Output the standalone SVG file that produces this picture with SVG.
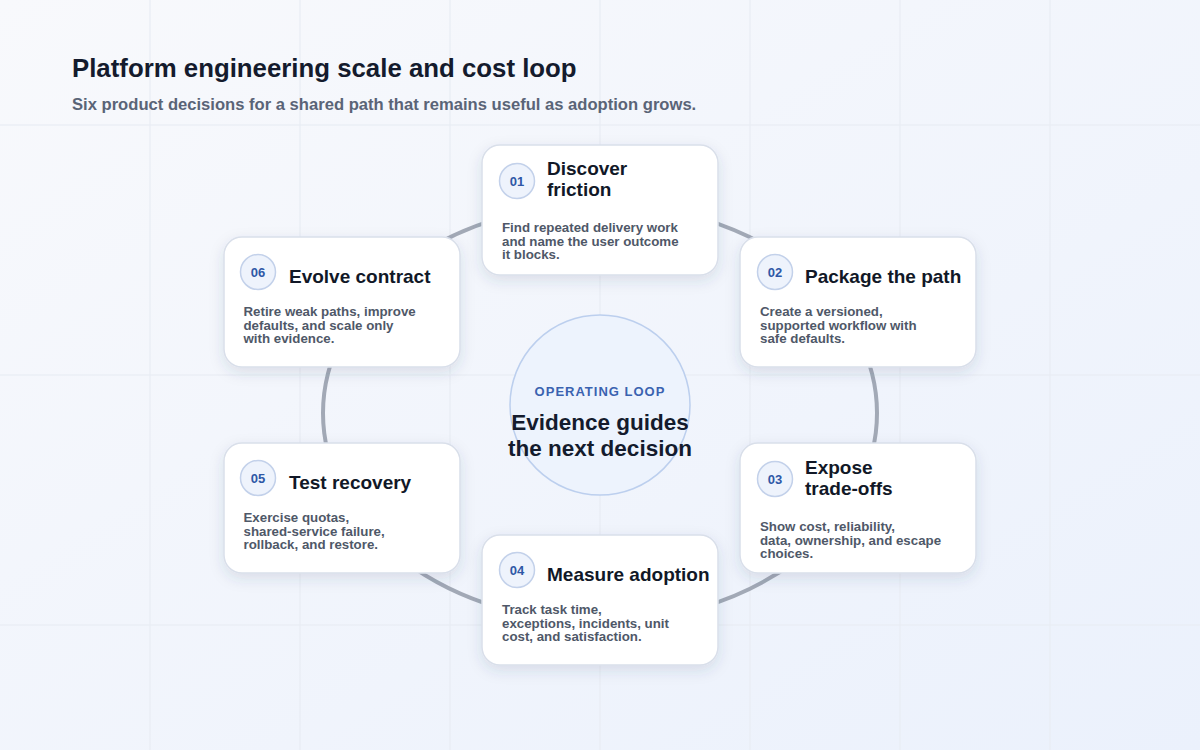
<svg xmlns="http://www.w3.org/2000/svg" width="1200" height="750" viewBox="0 0 1200 750">
<defs>
<linearGradient id="bg" x1="0" y1="0" x2="1" y2="1">
<stop offset="0" stop-color="#f8f9fc"/>
<stop offset="1" stop-color="#ebf1fc"/>
</linearGradient>
<filter id="sh" x="-20%" y="-20%" width="140%" height="150%">
<feDropShadow dx="0" dy="5" stdDeviation="7" flood-color="#334466" flood-opacity="0.13"/>
</filter>
<style>
.grid{stroke:#e9edf4;stroke-width:1.5;opacity:0.8}
.card{fill:#ffffff;stroke:#d9dfea;stroke-width:1.5}
.badge{fill:#eef3fc;stroke:#c3d1ea;stroke-width:1.5}
.num{font-family:"Liberation Sans",Arial,sans-serif;font-weight:700;font-size:13px;fill:#2f58a6;text-anchor:middle}
.ttl{font-family:"Liberation Sans",Arial,sans-serif;font-weight:700;font-size:19px;fill:#111827}
.body{font-family:"Liberation Sans",Arial,sans-serif;font-weight:700;font-size:13.3px;fill:#4f5868}
.ring{fill:none;stroke:#a2a9b6;stroke-width:4}
</style>
</defs>
<rect x="0" y="0" width="1200" height="750" fill="url(#bg)"/>
<g id="grid">
<line class="grid" x1="150" y1="0" x2="150" y2="750"/>
<line class="grid" x1="300" y1="0" x2="300" y2="750"/>
<line class="grid" x1="450" y1="0" x2="450" y2="750"/>
<line class="grid" x1="600" y1="0" x2="600" y2="750"/>
<line class="grid" x1="750" y1="0" x2="750" y2="750"/>
<line class="grid" x1="900" y1="0" x2="900" y2="750"/>
<line class="grid" x1="1050" y1="0" x2="1050" y2="750"/>
<line class="grid" x1="0" y1="125" x2="1200" y2="125"/>
<line class="grid" x1="0" y1="375" x2="1200" y2="375"/>
<line class="grid" x1="0" y1="625" x2="1200" y2="625"/>
</g>
<g id="header">
<text x="72" y="77" font-family="Liberation Sans, Arial, sans-serif" font-weight="700" font-size="25.8" fill="#141b2d">Platform engineering scale and cost loop</text>
<text x="72" y="110" font-family="Liberation Sans, Arial, sans-serif" font-weight="700" font-size="16.6" fill="#5a6477">Six product decisions for a shared path that remains useful as adoption grows.</text>
</g>
<g id="connectors">
<ellipse class="ring" cx="600" cy="413" rx="277" ry="209"/>
</g>
<g id="center">
<circle cx="600" cy="405" r="90" fill="#edf3fd" stroke="#bccfee" stroke-width="1.5"/>
<text x="600" y="396" text-anchor="middle" font-family="Liberation Sans, Arial, sans-serif" font-weight="700" font-size="13" letter-spacing="1" fill="#3a62b0">OPERATING LOOP</text>
<text x="600" y="430" text-anchor="middle" font-family="Liberation Sans, Arial, sans-serif" font-weight="700" font-size="22.5" fill="#141b2d">Evidence guides</text>
<text x="600" y="456" text-anchor="middle" font-family="Liberation Sans, Arial, sans-serif" font-weight="700" font-size="22.5" fill="#141b2d">the next decision</text>
</g>
<g id="node-01">
<rect class="card" x="482" y="145" width="236" height="130" rx="18" filter="url(#sh)"/>
<circle class="badge" cx="517" cy="181" r="17.5"/>
<text class="num" x="517" y="185.5">01</text>
<text class="ttl" x="547" y="175">Discover</text>
<text class="ttl" x="547" y="196">friction</text>
<text class="body" x="502" y="232">Find repeated delivery work</text>
<text class="body" x="502" y="245.5">and name the user outcome</text>
<text class="body" x="502" y="259">it blocks.</text>
</g>
<g id="node-02">
<rect class="card" x="740" y="237" width="236" height="130" rx="18" filter="url(#sh)"/>
<circle class="badge" cx="775" cy="272" r="17.5"/>
<text class="num" x="775" y="276.5">02</text>
<text class="ttl" x="805" y="283">Package the path</text>
<text class="body" x="760" y="316">Create a versioned,</text>
<text class="body" x="760" y="329.5">supported workflow with</text>
<text class="body" x="760" y="343">safe defaults.</text>
</g>
<g id="node-03">
<rect class="card" x="740" y="443" width="236" height="130" rx="18" filter="url(#sh)"/>
<circle class="badge" cx="775" cy="479" r="17.5"/>
<text class="num" x="775" y="483.5">03</text>
<text class="ttl" x="805" y="474">Expose</text>
<text class="ttl" x="805" y="495">trade-offs</text>
<text class="body" x="760" y="531">Show cost, reliability,</text>
<text class="body" x="760" y="544.5">data, ownership, and escape</text>
<text class="body" x="760" y="558">choices.</text>
</g>
<g id="node-04">
<rect class="card" x="482" y="535" width="236" height="130" rx="18" filter="url(#sh)"/>
<circle class="badge" cx="517" cy="570" r="17.5"/>
<text class="num" x="517" y="574.5">04</text>
<text class="ttl" x="547" y="581">Measure adoption</text>
<text class="body" x="502" y="614">Track task time,</text>
<text class="body" x="502" y="627.5">exceptions, incidents, unit</text>
<text class="body" x="502" y="641">cost, and satisfaction.</text>
</g>
<g id="node-05">
<rect class="card" x="224" y="443" width="236" height="130" rx="18" filter="url(#sh)"/>
<circle class="badge" cx="258" cy="478" r="17.5"/>
<text class="num" x="258" y="482.5">05</text>
<text class="ttl" x="289" y="489">Test recovery</text>
<text class="body" x="243.5" y="522">Exercise quotas,</text>
<text class="body" x="243.5" y="535.5">shared-service failure,</text>
<text class="body" x="243.5" y="549">rollback, and restore.</text>
</g>
<g id="node-06">
<rect class="card" x="224" y="237" width="236" height="130" rx="18" filter="url(#sh)"/>
<circle class="badge" cx="258" cy="272" r="17.5"/>
<text class="num" x="258" y="276.5">06</text>
<text class="ttl" x="289" y="283">Evolve contract</text>
<text class="body" x="243.5" y="316">Retire weak paths, improve</text>
<text class="body" x="243.5" y="329.5">defaults, and scale only</text>
<text class="body" x="243.5" y="343">with evidence.</text>
</g>
</svg>
